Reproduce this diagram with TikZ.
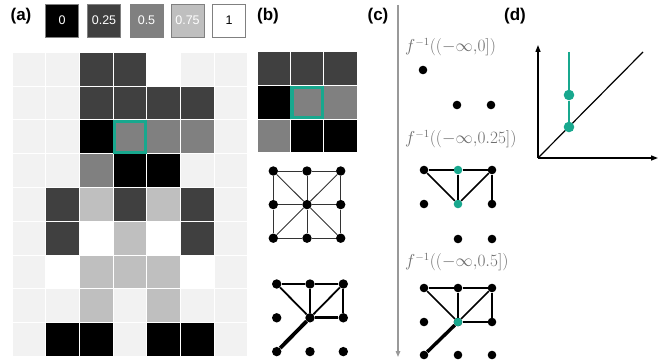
\documentclass[tikz,border=0pt]{standalone}
\usepackage{fontspec}
\setsansfont{Liberation Sans}
\usetikzlibrary{arrows.meta}
\definecolor{teal1}{RGB}{24,168,142}
\definecolor{lg}{RGB}{242,242,242}
\definecolor{g25}{RGB}{64,64,64}
\definecolor{g50}{RGB}{128,128,128}
\definecolor{g75}{RGB}{191,191,191}
\definecolor{labgray}{RGB}{110,110,110}
\tikzset{
  legbox/.style={draw=g50, line width=0.8pt, minimum width=33pt, minimum height=33pt, inner sep=0pt, text=white, font=\sffamily\fontsize{12.5}{14}\selectfont},
  panel/.style={font=\sffamily\bfseries\fontsize{17}{20}\selectfont, inner sep=0pt},
  bdot/.style={circle, fill=black, inner sep=0pt, minimum size=9.4pt},
  cdot/.style={circle, fill=black, inner sep=0pt, minimum size=8.6pt},
  tdot/.style={cdot, fill=teal1},
  flab/.style={text=labgray, anchor=west, inner sep=0pt, font=\fontsize{16}{19}\selectfont},
  thinedge/.style={draw=black!80, line width=0.9pt},
  gedge/.style={draw=black, line width=1.8pt},
  cedge/.style={draw=black, line width=1.7pt},
  axis/.style={draw=black, line width=1.3pt, -{Triangle[length=7pt,width=5pt]}},
  hilite/.style={draw=teal1, line width=3.2pt},
}
\begin{document}
\begin{tikzpicture}[x=1pt,y=-1pt]
\useasboundingbox (0,0) rectangle (664,361);
% panel labels
\node[panel] (la) at (21,16) {(a)};
\node[panel] (lb) at (268,16) {(b)};
\node[panel] (lc) at (378,16) {(c)};
\node[panel] (ld) at (515,16) {(d)};
% legend
\node[legbox, fill=black] (k0) at (62,20.5) {0};
\node[legbox, fill=g25] (k1) at (104,20.5) {0.25};
\node[legbox, fill=g50] (k2) at (146.5,20.5) {0.5};
\node[legbox, fill=g75] (k3) at (187.5,20.5) {0.75};
\node[legbox, fill=white, text=black] (k4) at (229,20.5) {1};
% big grid
\foreach \row [count=\r from 0] in {
  {lg,lg,g25,g25,white,lg,lg},
  {lg,lg,g25,g25,g25,g25,lg},
  {lg,lg,black,g50,g50,g50,lg},
  {lg,lg,g50,black,black,lg,lg},
  {lg,g25,g75,g25,g75,g25,lg},
  {lg,g25,white,g75,white,g25,lg},
  {lg,white,g75,g75,g75,white,lg},
  {lg,lg,g75,lg,g75,lg,lg},
  {lg,black,black,lg,black,black,lg}} {
  \foreach \c [count=\k from 0] in \row {
    \filldraw[fill=\c, draw=white, line width=1pt] (12+\k*33.7,52.3+\r*33.8) rectangle ++(33.7,33.8);
  }
}
\draw[hilite] (114.7,121.7) rectangle (145.2,152.1);
% small grid (b)
\foreach \row [count=\r from 0] in {
  {g25,g25,g25},
  {black,g50,g50},
  {g50,black,black}} {
  \foreach \c [count=\k from 0] in \row {
    \filldraw[fill=\c, draw=white, line width=1pt] (257+\k*33.4,52+\r*33.6) rectangle ++(33.4,33.6);
  }
}
\draw[hilite] (291.9,87.2) rectangle (322.3,117.6);
% (b) graph 1
\foreach \i in {0,1,2} {
  \foreach \j in {0,1,2} {
    \node[bdot] (p\i\j) at (273.3+\i*33.7,171+\j*33.6) {};
  }
}
\draw[thinedge] (p00) -- (p10) -- (p20) -- (p21) -- (p22) -- (p12) -- (p02) -- (p01) -- (p00);
\foreach \n in {p00,p10,p20,p01,p21,p02,p12,p22} {
  \draw[thinedge] (p11) -- (\n);
}
% (b) graph 2
\foreach \i in {0,1,2} {
  \foreach \j in {0,1,2} {
    \node[bdot] (q\i\j) at (276.7+\i*33.3,284+\j*33.8) {};
  }
}
\draw[gedge] (q00) -- (q10);
\draw[gedge] (q10) -- (q20);
\draw[gedge] (q00) -- (q11);
\draw[gedge] (q10) -- (q11);
\draw[gedge] (q20) -- (q11);
\draw[gedge] (q20) -- (q21);
\draw[gedge, line width=2.8pt] (q11) -- (q21);
\draw[gedge, line width=3.8pt] (q11) -- (q02);
% (c) arrow
\coordinate (ctop) at (398,5);
\coordinate (cbot) at (398,357);
\draw[draw=black!40, line width=1.3pt, -{Triangle[length=6pt,width=4.5pt]}] (ctop) -- (cbot);
% (c) labels
\node[flab] (f1) at (405,47) {$f^{-1}((-\infty{,}0])$};
\node[flab] (f2) at (405,139) {$f^{-1}((-\infty{,}0.25])$};
\node[flab] (f3) at (405,262) {$f^{-1}((-\infty{,}0.5])$};
% (c) graph 1
\node[cdot] (r01) at (423,70) {};
\node[cdot] (r12) at (457,105) {};
\node[cdot] (r22) at (491,105) {};
% (c) graph 2
\node[cdot] (s00) at (424,170) {};
\node[tdot] (s10) at (458,170) {};
\node[cdot] (s20) at (492,170) {};
\node[cdot] (s01) at (424,204) {};
\node[tdot] (s11) at (458,204) {};
\node[cdot] (s21) at (492,204) {};
\node[cdot] (s12) at (458,239) {};
\node[cdot] (s22) at (492,239) {};
\draw[cedge] (s00) -- (s10);
\draw[cedge] (s10) -- (s20);
\draw[cedge] (s00) -- (s11);
\draw[cedge] (s10) -- (s11);
\draw[cedge] (s20) -- (s11);
\draw[cedge] (s20) -- (s21);
% (c) graph 3
\foreach \i/\x in {0/424,1/458,2/492} {
  \foreach \j/\y in {0/288,1/322,2/355} {
    \node[cdot] (t\i\j) at (\x,\y) {};
  }
}
\node[tdot] (t11c) at (t11) {};
\draw[cedge] (t00) -- (t10);
\draw[cedge] (t10) -- (t20);
\draw[cedge] (t00) -- (t11c);
\draw[cedge] (t10) -- (t11c);
\draw[cedge] (t20) -- (t11c);
\draw[cedge] (t20) -- (t21);
\draw[cedge, line width=2.6pt] (t11c) -- (t21);
\draw[cedge, line width=3.4pt] (t11c) -- (t02);
% (d)
\coordinate (o) at (538,158);
\coordinate (ytop) at (538,45);
\coordinate (xend) at (658,158);
\coordinate (dend) at (643,52);
\coordinate (ttop) at (569,52);
\draw[axis] (o) -- (ytop);
\draw[axis] (o) -- (xend);
\draw[draw=black, line width=1.2pt] (o) -- (dend);
\node[circle, fill=teal1, inner sep=0pt, minimum size=10.6pt] (d1) at (569,95) {};
\node[circle, fill=teal1, inner sep=0pt, minimum size=10.6pt] (d2) at (569,127) {};
\draw[teal1, line width=1.8pt] (ttop) -- (d1) -- (d2);
\end{tikzpicture}
\end{document}
